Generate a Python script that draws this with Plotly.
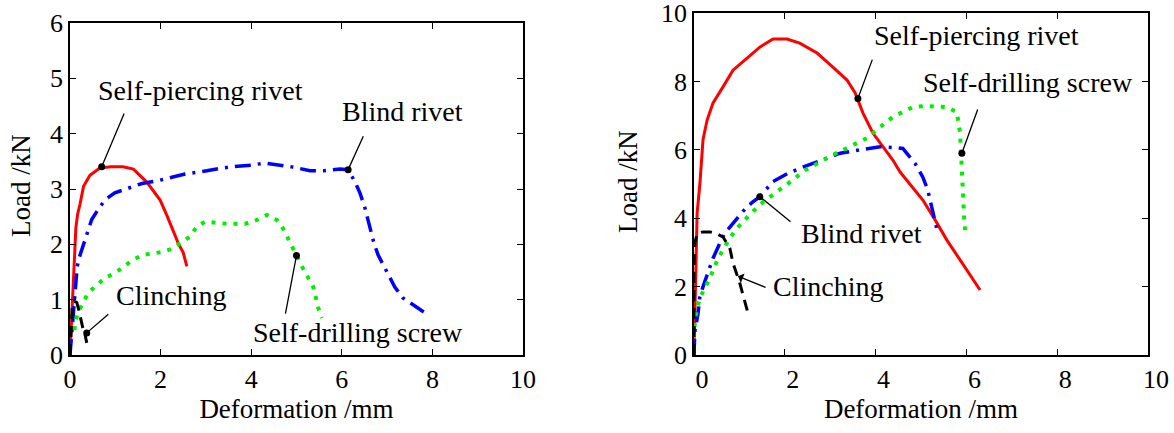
import plotly.graph_objects as go

# ---------------- Data (left panel) ----------------
spr_L_x = [0, 0.02, 0.04, 0.06, 0.08, 0.1, 0.13, 0.17, 0.22, 0.3, 0.44, 0.66, 0.9, 1.17, 1.4, 1.7, 1.99, 2.15, 2.27, 2.4, 2.5, 2.58]
spr_L_y = [0, 0.4, 0.8, 1.2, 1.6, 1.9, 2.3, 2.55, 2.72, 3.05, 3.25, 3.38, 3.40, 3.40, 3.36, 3.12, 2.8, 2.5, 2.25, 2.0, 1.85, 1.6]

blind_L_x = [0, 0.05, 0.1, 0.13, 0.16, 0.2, 0.26, 0.37, 0.48, 0.66, 0.8, 0.99, 1.28, 1.59, 1.99, 2.32, 2.54, 3.02, 3.36, 3.7, 4.0, 4.3, 4.6, 4.9, 5.3, 5.6, 5.96, 6.14, 6.29, 6.4, 6.51, 6.6, 6.7, 6.8, 7.0, 7.17, 7.35, 7.5, 7.66, 7.84]
blind_L_y = [0, 0.5, 1.0, 1.3, 1.6, 1.75, 1.9, 2.2, 2.45, 2.68, 2.82, 2.93, 3.02, 3.10, 3.16, 3.23, 3.27, 3.33, 3.38, 3.41, 3.43, 3.47, 3.43, 3.40, 3.33, 3.33, 3.36, 3.35, 3.13, 2.93, 2.66, 2.35, 2.05, 1.81, 1.5, 1.23, 1.03, 0.95, 0.87, 0.76]

sds_L_x = [0.1, 0.11, 0.18, 0.29, 0.4, 0.6, 0.77, 0.99, 1.2, 1.39, 1.61, 2.03, 2.25, 2.47, 2.65, 2.8, 2.98, 3.24, 3.47, 3.86, 4.13, 4.35, 4.57, 4.7, 4.9, 5.03, 5.14, 5.25, 5.37, 5.43, 5.48, 5.56]
sds_L_y = [0.45, 0.58, 0.78, 0.96, 1.12, 1.27, 1.39, 1.48, 1.6, 1.72, 1.81, 1.86, 1.92, 2.03, 2.14, 2.32, 2.41, 2.39, 2.37, 2.37, 2.44, 2.53, 2.44, 2.29, 1.95, 1.75, 1.57, 1.41, 1.23, 1.03, 0.85, 0.67]

clinch_L_x = [0, 0.02, 0.05, 0.1, 0.15, 0.2, 0.24, 0.28, 0.33, 0.37]
clinch_L_y = [0, 0.5, 0.85, 0.97, 0.95, 0.8, 0.65, 0.5, 0.38, 0.22]

# ---------------- Data (right panel) ----------------
spr_R_x = [0, 0.02, 0.04, 0.06, 0.07, 0.13, 0.18, 0.2, 0.29, 0.42, 0.64, 0.86, 1.17, 1.45, 1.74, 2.05, 2.33, 2.71, 3.06, 3.37, 3.55, 3.72, 3.94, 4.16, 4.38, 4.54, 4.82, 5.04, 5.27, 5.57, 5.86, 6.08, 6.3]
spr_R_y = [0, 1, 2, 3, 4.15, 5.0, 5.8, 6.3, 6.87, 7.37, 7.84, 8.33, 8.68, 9.0, 9.24, 9.24, 9.12, 8.83, 8.42, 8.04, 7.66, 7.08, 6.49, 6.08, 5.7, 5.35, 4.9, 4.53, 4.04, 3.36, 2.78, 2.34, 1.9]

blind_R_x = [0, 0.02, 0.09, 0.13, 0.2, 0.29, 0.42, 0.57, 0.68, 0.86, 1.08, 1.27, 1.45, 1.74, 2.07, 2.41, 2.93, 3.22, 3.66, 4.1, 4.6, 4.87, 5.04, 5.15, 5.24, 5.3, 5.37]
blind_R_y = [0, 0.68, 1.22, 1.7, 2.0, 2.34, 2.83, 3.27, 3.56, 3.85, 4.2, 4.45, 4.63, 5.07, 5.31, 5.5, 5.75, 5.9, 6.0, 6.09, 6.04, 5.6, 5.2, 4.82, 4.3, 3.9, 3.56]

sds_R_x = [0, 0.02, 0.07, 0.13, 0.35, 0.53, 0.68, 0.79, 0.95, 1.12, 1.3, 1.52, 1.89, 2.18, 2.44, 2.71, 3.06, 3.5, 3.81, 4.16, 4.38, 4.82, 5.09, 5.57, 5.79, 5.86, 5.88, 5.9, 5.92, 5.95, 5.97]
sds_R_y = [0.5, 1.02, 1.37, 1.67, 2.25, 2.83, 3.16, 3.42, 3.71, 3.95, 4.2, 4.47, 4.82, 5.12, 5.4, 5.61, 5.85, 6.14, 6.34, 6.73, 6.96, 7.25, 7.28, 7.25, 7.1, 6.49, 5.9, 5.03, 4.35, 4.0, 3.65]

clinch_R_x = [0, 0, 0, 0.02, 0.07, 0.2, 0.35, 0.5, 0.64, 0.79, 0.86, 1.01, 1.17, 1.19]
clinch_R_y = [0, 1.6, 2.57, 3.27, 3.56, 3.6, 3.6, 3.55, 3.45, 3.13, 2.69, 2.1, 1.32, 1.11]

# Labels: text, text position, leader tail, marked point (data coords)
labels_L = ["Self-piercing rivet", "Blind rivet", "Clinching", "Self-drilling screw"]
labels_R = ["Self-piercing rivet", "Self-drilling screw", "Blind rivet", "Clinching"]
text_L_pos = [(2.89, 4.78), (7.33, 4.4), (2.23, 1.08), (6.36, 0.4)]
tail_L = [(1.21, 4.39), (6.49, 3.98), (0.88, 0.76), (4.75, 0.72)]
point_L = [(0.7, 3.4), (6.14, 3.35), (0.37, 0.4), (5.0, 1.8)]
text_R_pos = [(6.23, 9.35), (7.36, 7.97), (3.68, 3.55), (2.95, 2.0)]
tail_R = [(3.94, 8.68), (6.26, 7.22), (2.16, 3.86), (1.61, 1.96)]
point_R = [(3.61, 7.5), (5.9, 5.9), (1.45, 4.63), (0.97, 2.3)]

FONT = "Liberation Serif"
RED, BLUE, GREEN, BLACK = "#ff0000", "#0000ff", "#00ee00", "#000000"
BLUE_DASH = "16px,7px,3px,7px"
GREEN_DASH = "4px,7px"
BLACK_DASH = "11px,7px"

fig = go.Figure()

def add_set(sx, sy, bx, by, dx, dy, cx, cy, xa, ya):
    fig.add_trace(go.Scatter(x=sx, y=sy, mode="lines", xaxis=xa, yaxis=ya,
                             line=dict(color=RED, width=3)))
    fig.add_trace(go.Scatter(x=bx, y=by, mode="lines", xaxis=xa, yaxis=ya,
                             line=dict(color=BLUE, width=3.5, dash=BLUE_DASH)))
    fig.add_trace(go.Scatter(x=dx, y=dy, mode="lines", xaxis=xa, yaxis=ya,
                             line=dict(color=GREEN, width=4, dash=GREEN_DASH)))
    fig.add_trace(go.Scatter(x=cx, y=cy, mode="lines", xaxis=xa, yaxis=ya,
                             line=dict(color=BLACK, width=3, dash=BLACK_DASH)))

add_set(spr_L_x, spr_L_y, blind_L_x, blind_L_y, sds_L_x, sds_L_y, clinch_L_x, clinch_L_y, "x", "y")
add_set(spr_R_x, spr_R_y, blind_R_x, blind_R_y, sds_R_x, sds_R_y, clinch_R_x, clinch_R_y, "x2", "y2")

# marker dots at labelled points (right clinching label uses an arrowhead instead)
dots_L = point_L
dots_R = point_R[:3]
fig.add_trace(go.Scatter(x=[p[0] for p in dots_L], y=[p[1] for p in dots_L], mode="markers",
                         marker=dict(color=BLACK, size=7), xaxis="x", yaxis="y"))
fig.add_trace(go.Scatter(x=[p[0] for p in dots_R], y=[p[1] for p in dots_R], mode="markers",
                         marker=dict(color=BLACK, size=7), xaxis="x2", yaxis="y2"))

LABEL_FONT = dict(family=FONT, size=28, color="black")
annotations = []
for txt, tp, tl, pt in zip(labels_L, text_L_pos, tail_L, point_L):
    annotations.append(dict(x=tp[0], y=tp[1], xref="x", yref="y", text=txt, showarrow=False,
                            font=LABEL_FONT))
    annotations.append(dict(x=pt[0], y=pt[1], ax=tl[0], ay=tl[1], xref="x", yref="y", axref="x", ayref="y",
                            text="", showarrow=True, arrowhead=0, arrowwidth=1.3, arrowcolor="black"))
for i, (txt, tp, tl, pt) in enumerate(zip(labels_R, text_R_pos, tail_R, point_R)):
    annotations.append(dict(x=tp[0], y=tp[1], xref="x2", yref="y2", text=txt, showarrow=False,
                            font=LABEL_FONT))
    annotations.append(dict(x=pt[0], y=pt[1], ax=tl[0], ay=tl[1], xref="x2", yref="y2", axref="x2", ayref="y2",
                            text="", showarrow=True, arrowhead=(1 if i == 3 else 0), arrowsize=1.3,
                            arrowwidth=1.3, arrowcolor="black"))

# y-axis titles as rotated text
title_font = dict(family=FONT, size=27, color="black")
annotations.append(dict(x=21 / 1174, y=1 - 186 / 433, xref="paper", yref="paper", text="Load /kN",
                        textangle=-90, showarrow=False, font=title_font, xanchor="center", yanchor="middle"))
annotations.append(dict(x=628 / 1174, y=1 - 182 / 433, xref="paper", yref="paper", text="Load /kN",
                        textangle=-90, showarrow=False, font=title_font, xanchor="center", yanchor="middle"))

axis_common = dict(showline=True, linecolor="black", linewidth=1.5, mirror="ticks", ticks="inside",
                   ticklen=6, tickwidth=1.3, tickcolor="black", showgrid=False, zeroline=False,
                   automargin=False, ticklabeloverflow="allow",
                   tickfont=dict(family=FONT, size=26, color="black"))

fig.update_layout(
    width=1174, height=433, margin=dict(l=0, r=0, t=0, b=0, autoexpand=False),
    paper_bgcolor="white", plot_bgcolor="white", showlegend=False,
    font=dict(family=FONT, size=26, color="black"),
    xaxis=dict(domain=[0.0596, 0.4455], range=[0, 10], dtick=2, anchor="y",
               title=dict(text="Deformation /mm", font=title_font, standoff=4), **axis_common),
    yaxis=dict(domain=[0.1801, 0.9469], range=[0, 6], dtick=1, anchor="x", **axis_common),
    xaxis2=dict(domain=[0.5911, 0.9779], range=[0, 10], dtick=2, anchor="y2", ticklabelshift=8,
                title=dict(text="Deformation /mm", font=title_font, standoff=4), **axis_common),
    yaxis2=dict(domain=[0.1801, 0.970], range=[0, 10], dtick=2, anchor="x2", **axis_common),
    annotations=annotations,
)

fig.write_html("out.html", config={"displayModeBar": False},
               post_script="document.body.style.margin='0px';document.body.style.overflow='hidden';")
